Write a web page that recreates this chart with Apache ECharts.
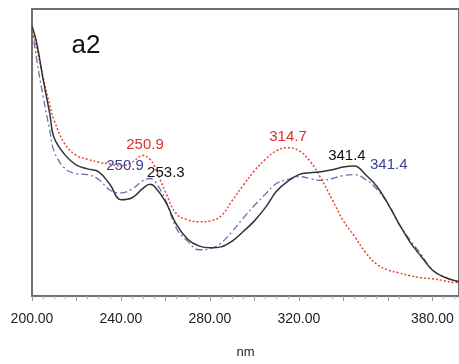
<!DOCTYPE html>
<html>
<head>
<meta charset="utf-8">
<script src="https://cdn.jsdelivr.net/npm/echarts@6/dist/echarts.min.js"></script>
<style>
  html, body { margin: 0; padding: 0; background: #fff; }
  #chart { width: 459px; height: 364px; }
</style>
</head>
<body>
<div id="chart"></div>
<script>
// wavelength (nm) shared by the three spectra
var wavelengths = [200, 202, 205, 208, 210, 215, 220, 225, 230, 235, 240, 245, 250, 253, 255,
  260, 265, 270, 275, 280, 285, 290, 295, 300, 305, 310, 315, 320, 325, 330, 335, 340, 345,
  350, 355, 360, 365, 370, 375, 380, 385, 390, 392];

// absorbance, arbitrary units
var redValues = [279, 259, 227, 198, 182, 157, 146, 142, 139, 137, 135, 139, 146, 142, 135,
  108, 85, 79, 77, 78, 83, 99, 115, 130, 142, 151, 154, 151, 140, 122, 100, 78, 62,
  45, 33, 27, 24, 21, 19, 18, 16, 14, 14];
var blackValues = [280, 264, 225, 189, 164, 146, 136, 132, 129, 116, 100, 102, 112, 116, 114,
  98, 74, 59, 52, 50, 51, 57, 67, 78, 92, 109, 119, 126, 128, 129, 131, 134, 135,
  126, 114, 96, 75, 56, 41, 27, 20, 16, 15];
var blueValues = [280, 247, 207, 172, 150, 132, 127, 126, 121, 110, 107, 111, 120, 122, 120,
  100, 70, 57, 48, 49, 55, 67, 81, 94, 106, 117, 121, 124, 122, 120, 122, 125, 126,
  121, 111, 96, 75, 58, 43, 27, 20, 16, 15];

var shownTicks = [200, 240, 280, 320, 380];

function pairs(vals) {
  return wavelengths.map(function (w, i) { return [w, vals[i]]; });
}

function tag(text, coord, color, size) {
  return {
    coord: coord,
    symbol: "circle",
    symbolSize: 1,
    itemStyle: { color: "rgba(0,0,0,0)" },
    label: { show: true, formatter: text, color: color, fontSize: size || 15, position: "inside",
      fontFamily: "Liberation Sans" }
  };
}

var myChart = echarts.init(document.getElementById("chart"));
myChart.setOption({
  animation: false,
  grid: {
    left: 32, top: 9, right: -2, bottom: 57,
    show: true, borderColor: "#707070", borderWidth: 2
  },
  xAxis: {
    type: "value",
    min: 200,
    max: 392,
    interval: 20,
    name: "nm",
    nameLocation: "middle",
    nameGap: 50,
    nameTextStyle: { color: "#222", fontSize: 13, fontFamily: "Liberation Sans" },
    axisLine: { show: true, lineStyle: { color: "#707070", width: 2 } },
    axisTick: { show: true, length: 5, lineStyle: { color: "#999" } },
    minorTick: { show: true, splitNumber: 4, length: 3, lineStyle: { color: "#aaa" } },
    splitLine: { show: false },
    axisLabel: {
      margin: 16,
      fontSize: 14,
      color: "#222",
      fontFamily: "Liberation Sans",
      showMaxLabel: false,
      formatter: function (v) {
        return shownTicks.indexOf(v) >= 0 ? v.toFixed(2) : "";
      }
    }
  },
  yAxis: {
    type: "value",
    min: 0,
    max: 298,
    axisLine: { show: true, lineStyle: { color: "#707070", width: 2 } },
    axisTick: { show: false },
    axisLabel: { show: false },
    splitLine: { show: false }
  },
  series: [
    {
      name: "red",
      type: "line",
      smooth: 0.4,
      symbol: "none",
      data: pairs(redValues),
      lineStyle: { color: "#e5452f", width: 1.5, type: [2, 2] },
      markPoint: {
        data: [
          tag("250.9", [250.8, 157], "#e0302a"),
          tag("314.7", [315.1, 165], "#e0302a")
        ]
      },
      z: 3
    },
    {
      name: "blue",
      type: "line",
      smooth: 0.4,
      symbol: "none",
      data: pairs(blueValues),
      lineStyle: { color: "#6a70b0", width: 1.3, type: [7, 3, 2, 3] },
      markPoint: {
        data: [
          tag("250.9", [241.8, 135], "#3b3f94"),
          tag("341.4", [360.4, 136], "#3b3f94")
        ]
      },
      z: 2
    },
    {
      name: "black",
      type: "line",
      smooth: 0.4,
      symbol: "none",
      data: pairs(blackValues),
      lineStyle: { color: "#333", width: 1.5 },
      markPoint: {
        data: [
          tag("253.3", [260.2, 128], "#111"),
          tag("341.4", [341.6, 146], "#111"),
          tag("a2", [224.3, 260], "#111", 26)
        ]
      },
      z: 4
    }
  ]
});
</script>
</body>
</html>
